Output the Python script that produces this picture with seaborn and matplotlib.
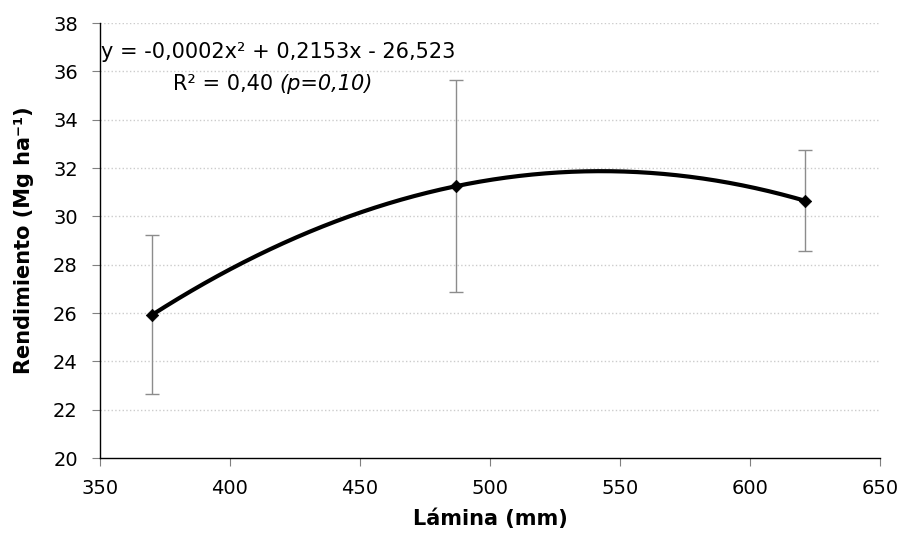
import numpy as np
import pandas as pd
import matplotlib
matplotlib.use("Agg")
import matplotlib.pyplot as plt
import seaborn as sns

### Data ###
lamina = [370, 487, 621]
rendimiento = [25.92, 31.25, 30.65]
err_low = [3.27, 4.38, 2.10]
err_high = [3.31, 4.39, 2.10]
x_ticks = [350, 400, 450, 500, 550, 600, 650]
y_ticks = [20, 22, 24, 26, 28, 30, 32, 34, 36, 38]

df = pd.DataFrame({"lamina": lamina, "rendimiento": rendimiento})

# quadratic trend through the means
coef = np.polyfit(df["lamina"], df["rendimiento"], 2)
x_fit = np.linspace(min(lamina), max(lamina), 200)
fit_df = pd.DataFrame({"lamina": x_fit, "rendimiento": np.polyval(coef, x_fit)})

### Plot ###
sns.set_style("white")
plt.rcParams['font.family'] = ['DejaVu Sans']
plt.rcParams['text.color'] = 'black'
plt.rcParams['axes.labelcolor'] = 'black'
plt.rcParams['xtick.color'] = 'black'
plt.rcParams['ytick.color'] = 'black'

fig = plt.figure(figsize=(9.04, 5.33), dpi=100)
ax = fig.add_axes([0.1106, 0.1407, 0.8628, 0.8161])

for y in y_ticks[1:]:
    ax.axhline(y, color='#cccccc', linestyle=':', linewidth=1, zorder=0)

ax.errorbar(df["lamina"], df["rendimiento"], yerr=[err_low, err_high], fmt='none',
            ecolor='#8c8c8c', elinewidth=1, capsize=5, capthick=1, zorder=2)
sns.lineplot(data=fit_df, x="lamina", y="rendimiento", color='black', linewidth=3, ax=ax, zorder=3)
sns.scatterplot(data=df, x="lamina", y="rendimiento", marker='D', color='black', s=40,
                edgecolor='black', ax=ax, zorder=4)

ax.set_xlim(350, 650)
ax.set_ylim(20, 38)
ax.set_xticks(x_ticks)
ax.set_yticks(y_ticks)
ax.tick_params(axis='both', labelsize=14, length=6, width=0.8, direction='out')
ax.tick_params(axis='both', color='#808080')
ax.tick_params(axis='x', pad=9)
ax.tick_params(axis='y', pad=10)
ax.xaxis.set_ticks_position('bottom')
ax.yaxis.set_ticks_position('left')

for side in ['top', 'right']:
    ax.spines[side].set_visible(False)
for side in ['left', 'bottom']:
    ax.spines[side].set_color('black')
    ax.spines[side].set_linewidth(1)

ax.set_xlabel('Lámina (mm)', fontsize=15, fontweight='bold', labelpad=8)
ax.set_ylabel('Rendimiento (Mg ha⁻¹)', fontsize=15, fontweight='bold', labelpad=14)

ax.text(418.5, 36.8, 'y = -0,0002x² + 0,2153x - 26,523', fontsize=15, ha='center', va='center')
t1 = ax.text(416.5, 35.47, 'R² = 0,40', fontsize=15, ha='right', va='center')
ax.annotate('(p=0,10)', xy=(1, 0), xycoords=t1, xytext=(5, 0), textcoords='offset points',
            fontsize=15, style='italic', ha='left', va='bottom')

plt.savefig('out.png', dpi=100)
